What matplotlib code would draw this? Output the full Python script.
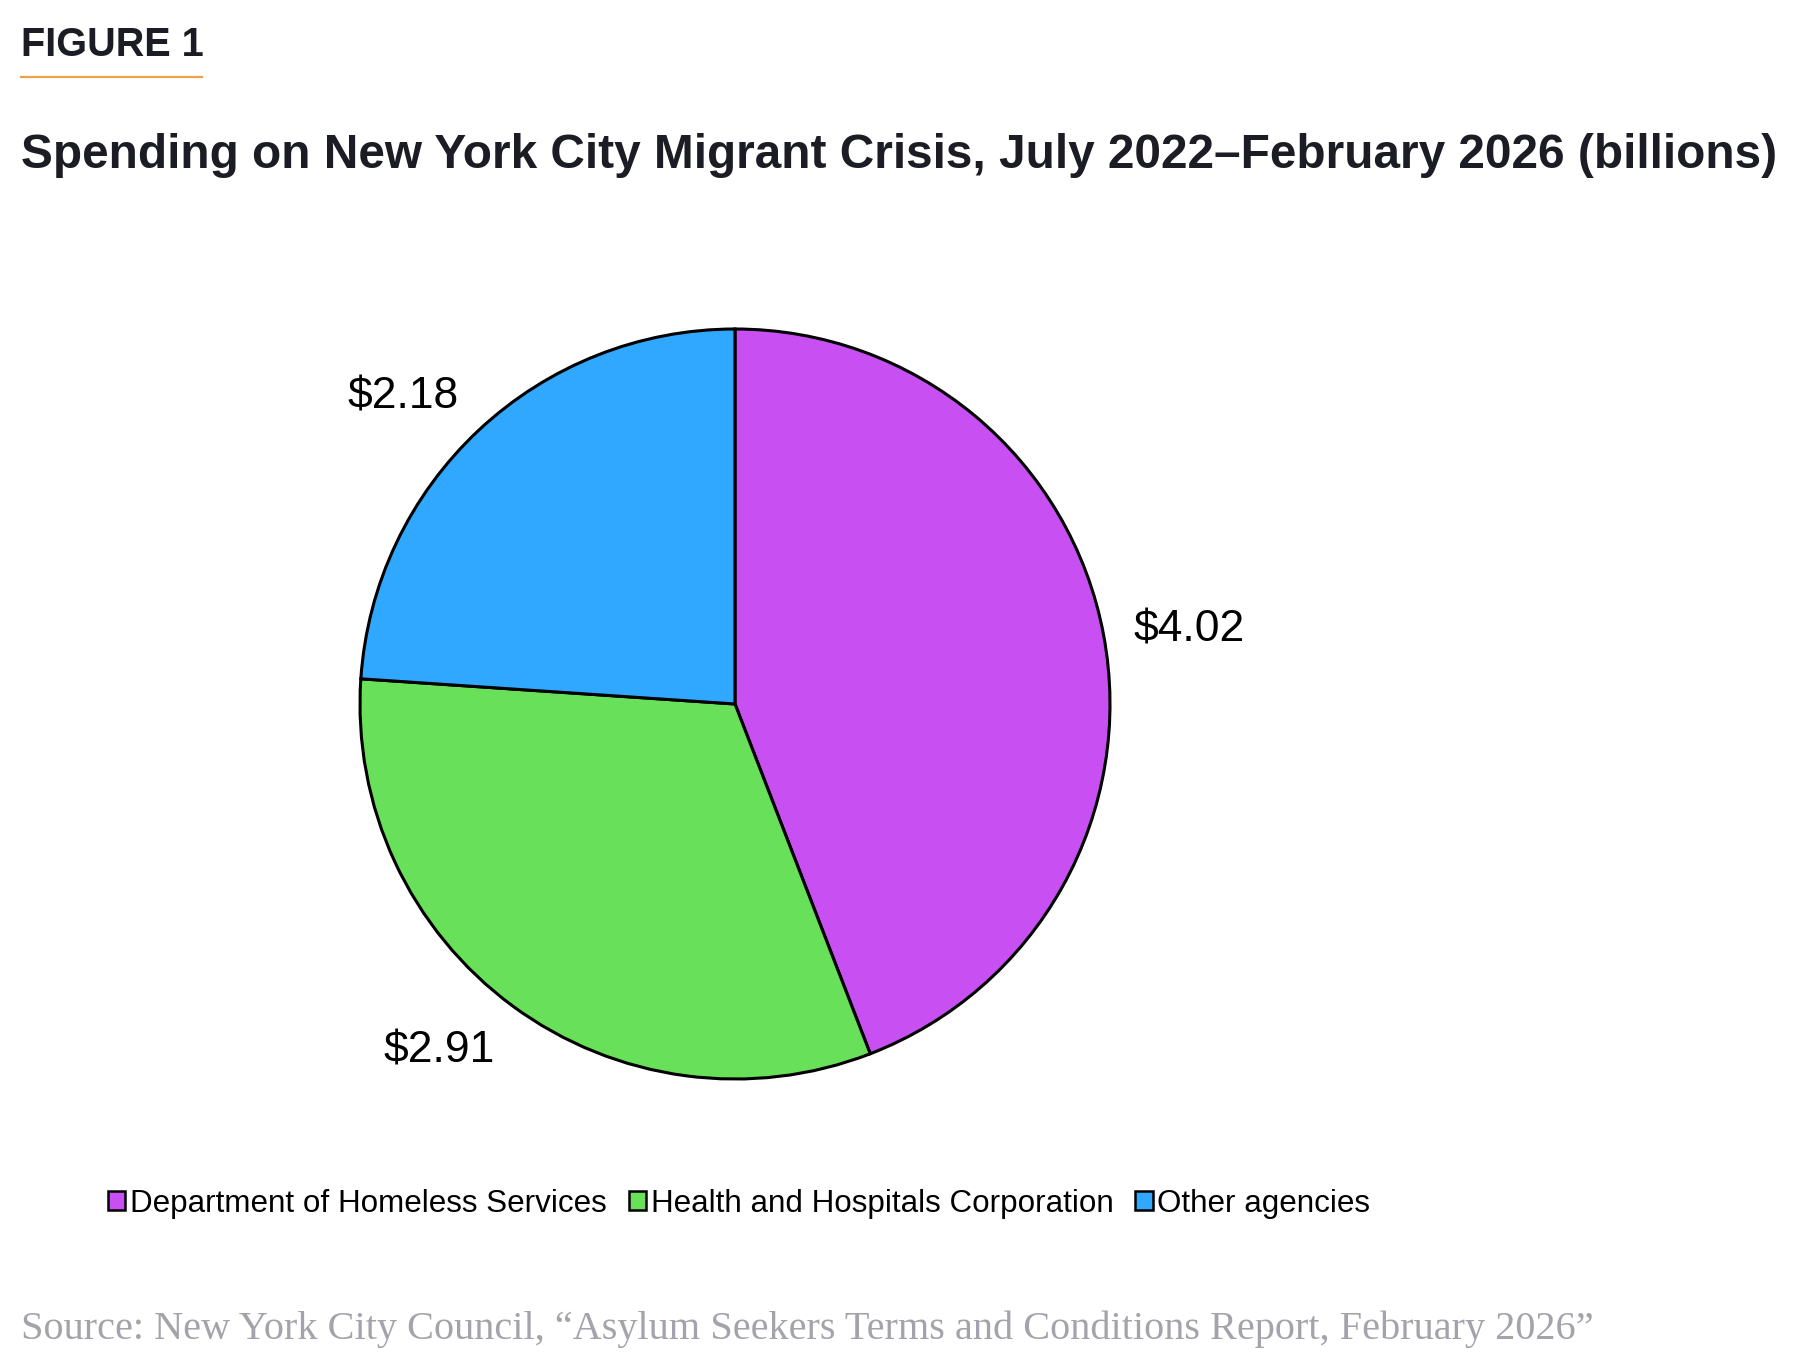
import matplotlib

matplotlib.use("Agg")
import matplotlib.pyplot as plt
from matplotlib.patches import Patch
from matplotlib.lines import Line2D

agencies = ["Department of Homeless Services", "Health and Hospitals Corporation", "Other agencies"]
spending = [4.02, 2.91, 2.18]
value_labels = ["$4.02", "$2.91", "$2.18"]
colors = ["#C850F2", "#69E05A", "#30A8FF"]

title = "Spending on New York City Migrant Crisis, July 2022\u2013February 2026 (billions)"
source = "Source: New York City Council, \u201cAsylum Seekers Terms and Conditions Report, February 2026\u201d"

W, H = 1800, 1366
fig = plt.figure(figsize=(W / 100, H / 100), dpi=100)


def fx(px):
    return px / W


def fy(py):
    return 1 - py / H


# header
fig.text(fx(21), fy(56), "FIGURE 1", family="Liberation Sans", weight="bold", fontsize=28.5,
         color="#1c1c24", va="baseline", ha="left")
fig.add_artist(Line2D([fx(21), fx(202)], [fy(77), fy(77)], color="#F0A04B", lw=1.6))
fig.text(fx(21), fy(168), title, family="Liberation Sans", weight="bold", fontsize=34.4,
         color="#1c1c24", va="baseline", ha="left")

# pie, centre at (735, 704) px with radius 375 px
r_px = 375
half = r_px * 1.5
ax = fig.add_axes([fx(735 - half), fy(704 + half), 2 * half / W, 2 * half / H])
wedges, texts = ax.pie(spending, labels=value_labels, colors=colors, startangle=90,
                       counterclock=False, labeldistance=1.08,
                       wedgeprops=dict(edgecolor="black", linewidth=2.2),
                       textprops=dict(fontsize=32, family="Liberation Sans", color="black"))
# outside labels sit next to the rim like an Excel data label
for t in texts:
    x, y = t.get_position()
    if abs(y) < 0.3:
        t.set_va("center")
    elif y > 0:
        t.set_va("baseline")
    else:
        t.set_va("top")
ax.set_xlim(-1.5, 1.5)
ax.set_ylim(-1.5, 1.5)
ax.axis("off")

handles = [Patch(facecolor=c, edgecolor="black", linewidth=1.8) for c in colors]
fig.legend(handles, agencies, loc="center left", bbox_to_anchor=(fx(108), fy(1204)),
           ncol=3, frameon=False, handlelength=0.55, handleheight=0.55,
           handletextpad=0.15, columnspacing=0.7, borderpad=0, borderaxespad=0,
           prop=dict(family="Liberation Sans", size=22.6))

fig.text(fx(21), fy(1339), source, family="Liberation Serif", fontsize=29,
         color="#a3a3ab", va="baseline", ha="left")

fig.savefig("out.png", dpi=100, facecolor="white")
